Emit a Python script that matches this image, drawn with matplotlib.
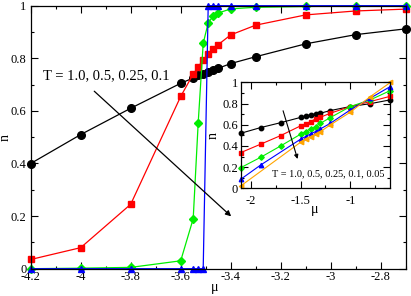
import matplotlib
matplotlib.use('Agg')
import matplotlib.pyplot as plt
from matplotlib.ticker import MultipleLocator

plt.rcParams['font.family'] = ['Liberation Serif', 'DejaVu Serif']

# main panel: n vs mu for T = 1.0, 0.5, 0.25, 0.1
mu_main = [-4.2, -4.0, -3.8, -3.6, -3.55, -3.53, -3.51, -3.49, -3.47, -3.45,
           -3.4, -3.3, -3.1, -2.9, -2.7]
n_t100 = [0.40, 0.51, 0.61, 0.705, 0.725, 0.735, 0.742, 0.748, 0.755, 0.762,
          0.78, 0.806, 0.855, 0.89, 0.912]
n_t050 = [0.035, 0.08, 0.245, 0.655, 0.74, 0.768, 0.794, 0.815, 0.835, 0.852,
          0.889, 0.926, 0.965, 0.98, 0.987]
n_t025 = [0.0, 0.002, 0.005, 0.03, 0.19, 0.555, 0.857, 0.935, 0.96, 0.972,
          0.988, 0.994, 0.997, 0.999, 1.0]
n_t010 = [0.0, 0.0, 0.0, 0.0, 0.0, 0.0, 0.0, 1.0, 1.0, 1.0,
          1.0, 1.0, 1.0, 1.0, 1.0]

# inset: T = 1.0, 0.5, 0.25, 0.1, 0.05
mu_in = [-2.1, -1.9, -1.7, -1.5, -1.45, -1.4, -1.35, -1.3, -1.2, -1.0, -0.8, -0.6]
in_t100 = [0.52, 0.574, 0.62, 0.67, 0.685, 0.694, 0.704, 0.71, 0.735, 0.773, 0.80, 0.836]
in_t050 = [0.337, 0.417, 0.498, 0.59, 0.609, 0.63, 0.656, 0.672, 0.71, 0.773, 0.82, 0.87]
in_t025 = [0.195, 0.293, 0.40, 0.511, 0.536, 0.562, 0.583, 0.615, 0.669, 0.773, 0.836, 0.924]
mu_in_t010 = [-2.1, -1.9, -1.5, -1.45, -1.4, -1.35, -1.3, -1.2, -1.0, -0.8, -0.6]
in_t010 = [0.085, 0.22, 0.464, 0.489, 0.514, 0.536, 0.562, 0.615, 0.742, 0.852, 0.962]
mu_in_t005 = [-2.1, -1.5, -1.45, -1.4, -1.35, -1.3, -1.2, -1.0, -0.8, -0.6]
in_t005 = [0.022, 0.435, 0.464, 0.489, 0.511, 0.536, 0.60, 0.72, 0.867, 1.0]

W, H = 411, 296
fig = plt.figure(figsize=(W / 100, H / 100), dpi=100)


def frac(x0, y0, x1, y1):
    return [x0 / W, 1 - y1 / H, (x1 - x0) / W, (y1 - y0) / H]


def style(ax, xmaj, xmin, ymaj, ymin):
    ax.xaxis.set_major_locator(MultipleLocator(xmaj))
    ax.xaxis.set_minor_locator(MultipleLocator(xmin))
    ax.yaxis.set_major_locator(MultipleLocator(ymaj))
    ax.yaxis.set_minor_locator(MultipleLocator(ymin))
    ax.tick_params(which='both', direction='in', top=True, right=True,
                   labelsize=9, width=0.8)
    ax.tick_params(which='major', length=5)
    ax.tick_params(which='minor', length=2.5)
    ax.tick_params(axis='x', pad=2)
    ax.tick_params(axis='y', pad=3)
    for s in ax.spines.values():
        s.set_linewidth(0.9)
    ax.yaxis.set_major_formatter(plt.FuncFormatter(lambda v, p: f'{v:g}'))
    ax.xaxis.set_major_formatter(plt.FuncFormatter(lambda v, p: f'{v:g}'))


ax = fig.add_axes(frac(30.7, 5.7, 405.7, 268.7))
lw = 0.9
kw = dict(lw=lw, clip_on=False)
ax.plot(mu_main, n_t100, color='black', marker='o', ms=5.5, **kw)
ax.plot(mu_main, n_t050, color='red', marker='s', ms=5, **kw)
ax.plot(mu_main, n_t025, color='#00ee00', marker='D', ms=4, **kw)
ax.plot(mu_main, n_t010, color='blue', marker='^', ms=5, **kw)
ax.set_xlim(-4.2, -2.7)
ax.set_ylim(0, 1)
style(ax, 0.2, 0.1, 0.2, 0.1)
ax.set_xlabel('μ', fontsize=10, va='center')
ax.set_ylabel('n', fontsize=10, va='center')
ax.xaxis.set_label_coords(0.491, -0.07)
ax.yaxis.set_label_coords(-0.068, 0.5)
ax.text(-4.151, 0.733, 'T = 1.0, 0.5, 0.25, 0.1', fontsize=10.5,
        ha='left', va='center')
ax.annotate('', xy=(-3.39, 0.192), xytext=(-3.954, 0.682),
            arrowprops=dict(arrowstyle='-|>', color='black', lw=0.9,
                            mutation_scale=8))

axi = fig.add_axes(frac(240.7, 82.5, 390.3, 188.3))
ms_in = 3.2
kwi = dict(lw=0.8, clip_on=False)
axi.plot(mu_in, in_t100, color='black', marker='o', ms=ms_in, **kwi)
axi.plot(mu_in, in_t050, color='red', marker='s', ms=ms_in, **kwi)
axi.plot(mu_in, in_t025, color='#00ee00', marker='D', ms=2.8, **kwi)
axi.plot(mu_in_t010, in_t010, color='blue', marker='^', ms=ms_in, **kwi)
axi.plot(mu_in_t005, in_t005, color='orange', marker='<', ms=ms_in, **kwi)
axi.set_xlim(-2.1, -0.6)
axi.set_ylim(0, 1)
style(axi, 0.5, 0.25, 0.2, 0.1)
axi.tick_params(axis='x', pad=5)
axi.tick_params(axis='y', pad=2)
axi.set_xlabel('μ', fontsize=10, va='center')
axi.set_ylabel('n', fontsize=10, va='center')
axi.xaxis.set_label_coords(0.497, -0.205)
axi.yaxis.set_label_coords(-0.185, 0.5)
axi.text(-1.789, 0.135, 'T = 1.0, 0.5, 0.25, 0.1, 0.05', fontsize=7.4,
         ha='left', va='center')
axi.annotate('', xy=(-1.522, 0.252), xytext=(-1.683, 0.758),
             arrowprops=dict(arrowstyle='-|>', color='black', lw=0.8,
                             mutation_scale=6))

fig.savefig('out.png', dpi=100)
